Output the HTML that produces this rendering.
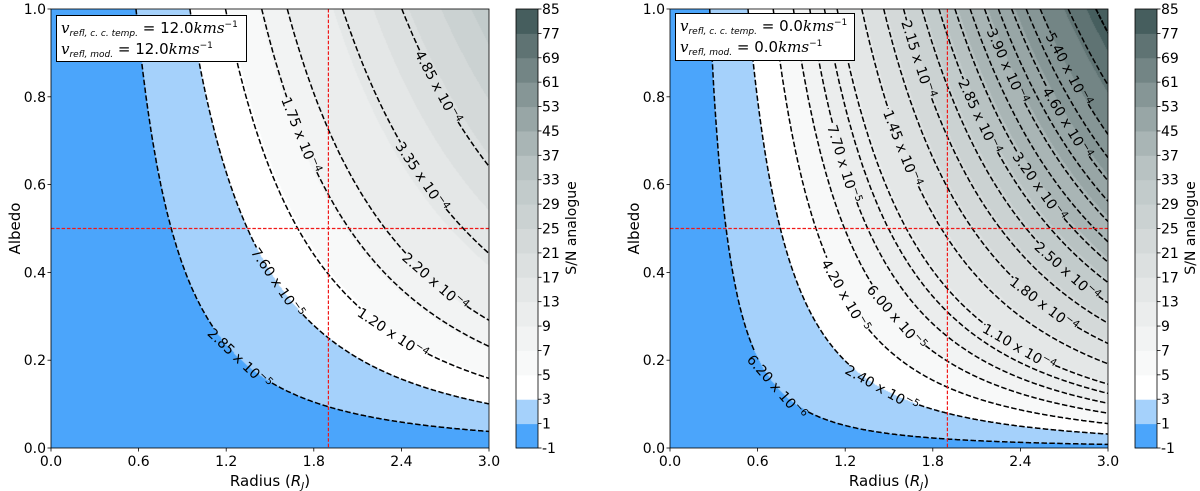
<!DOCTYPE html>
<html><head><meta charset="utf-8">
<style>
html,body{margin:0;padding:0;background:#fff;}
#wrap{position:relative;width:1200px;height:491px;overflow:hidden;font-family:"DejaVu Sans","Liberation Sans",sans-serif;}
canvas{position:absolute;}
svg{position:absolute;left:0;top:0;}
.leg{position:absolute;background:#fff;border:1px solid #000;font-size:15px;line-height:20px;padding:2px 4px;box-sizing:border-box;white-space:nowrap;overflow:hidden;}
.leg div{height:21px;}
.leg i{font-family:"DejaVu Serif","Liberation Serif",serif;font-size:15px;}
.leg sub{font-size:9px;font-style:italic;vertical-align:-3px;line-height:0;}
.leg sup{font-size:9px;vertical-align:6px;line-height:0;}
</style></head><body>
<div id="wrap">
<canvas id="cvL"></canvas>
<canvas id="cvR"></canvas>
<svg id="svg" width="1200" height="491"></svg>
<div class="leg" style="left:56px;top:15px;width:191px;height:47px;">
<div><i>v</i><sub>refl, c. c. temp.</sub> = 12.0<i>kms</i><sup>−1</sup></div>
<div><i>v</i><sub>refl, mod.</sub> = 12.0<i>kms</i><sup>−1</sup></div></div>
<div class="leg" style="left:675px;top:13px;width:180px;height:48px;">
<div><i>v</i><sub>refl, c. c. temp.</sub> = 0.0<i>kms</i><sup>−1</sup></div>
<div><i>v</i><sub>refl, mod.</sub> = 0.0<i>kms</i><sup>−1</sup></div></div>
</div>
<script>
// ---- data ----
const xTicks = [0.0, 0.6, 1.2, 1.8, 2.4, 3.0];
const yTicks = [0.0, 0.2, 0.4, 0.6, 0.8, 1.0];
const cbBounds = [-1, 1, 3, 5, 7, 9, 13, 17, 21, 25, 29, 33, 37, 45, 53, 61, 69, 77, 85];
const cbColors = ["#4ba5fb","#a5d1fb","#ffffff","#f8f9f9","#f2f3f3","#ebeded","#e4e7e7","#dce0e0","#d4d9d9","#cbd2d2","#c2cbcb","#b8c2c2","#a9b5b5","#98a6a6","#869696","#738585","#5f7373","#465e5e"];
const leftLevels = [2.85e-5, 7.60e-5, 1.20e-4, 1.75e-4, 2.20e-4, 3.35e-4, 4.85e-4];
const leftLabelR = [1.29, 1.55, 2.34, 1.71, 2.63, 2.54, 2.65];
const rightLevels = [6.20e-6, 2.40e-5, 4.20e-5, 6.00e-5, 7.70e-5, 9.40e-5, 1.10e-4, 1.45e-4, 1.80e-4, 2.15e-4, 2.50e-4, 2.85e-4, 3.20e-4, 3.55e-4, 3.90e-4, 4.25e-4, 4.60e-4, 5.00e-4, 5.40e-4, 6.25e-4, 7.15e-4];
const rightLabelR = [0.73, 1.45, 1.20, 1.55, 1.19, null, 2.39, 1.59, 2.56, 1.70, 2.72, 2.12, 2.53, null, 2.31, null, 2.72, null, 2.73, null, null];
const levelScale = 8.4e-5;        // flux per unit A*R^2
const leftSN = [3.53, -0.2];      // S/N = a*A*R^2 + b
const rightSN = [9.43, 0.3];
const crossR = 1.9, crossA = 0.5;

const NS = "http://www.w3.org/2000/svg";
const svg = document.getElementById('svg');
function mk(tag, attrs, parent){ const e=document.createElementNS(NS,tag); for(const k in attrs) e.setAttribute(k,attrs[k]); (parent||svg).appendChild(e); return e; }
function fmt(v){ const ex=Math.floor(Math.log10(v)+1e-9); const m=v/Math.pow(10,ex); return [m.toFixed(2), ex]; }

function drawPanel(p){
  const sx=v=>p.x0+(v/3)*(p.x1-p.x0);
  const sy=v=>p.y1-v*(p.y1-p.y0);
  const W=p.x1-p.x0, H=p.y1-p.y0;
  const cv=document.getElementById(p.canvas);
  cv.width=W; cv.height=H; cv.style.left=p.x0+'px'; cv.style.top=p.y0+'px';
  const ctx=cv.getContext('2d'); const img=ctx.createImageData(W,H);
  const rgb=cbColors.map(c=>[parseInt(c.substr(1,2),16),parseInt(c.substr(3,2),16),parseInt(c.substr(5,2),16)]);
  for(let j=0;j<H;j++){ const A=1-(j+0.5)/H;
    for(let i=0;i<W;i++){ const R=(i+0.5)/W*3; const sn=p.sn[0]*A*R*R+p.sn[1];
      let b=0; while(b<cbColors.length-1 && sn>cbBounds[b+1]) b++;
      const k=(j*W+i)*4; img.data[k]=rgb[b][0]; img.data[k+1]=rgb[b][1]; img.data[k+2]=rgb[b][2]; img.data[k+3]=255; } }
  ctx.putImageData(img,0,0);
  const g=mk('g',{});
  
  
  const clip=mk('clipPath',{id:p.name+'clip'},g); mk('rect',{x:p.x0,y:p.y0,width:W,height:H},clip);
  p.levels.forEach((L,li)=>{
    const K=L/levelScale; const Rmin=Math.sqrt(K);
    const lr=p.labelR[li]; let lx=null,ly=null,ang=0;
    if(lr!=null){ const la=K/(lr*lr); lx=sx(lr); ly=sy(la);
      ang=Math.atan2((2*la/lr)*H, W/3)*180/Math.PI; }
    let segs=[],cur=[];
    for(let s=0;s<=400;s++){ const R=Math.max(Rmin,0.001)+(3-Math.max(Rmin,0.001))*s/400; const A=K/(R*R);
      const X=sx(R), Y=sy(Math.min(A,1.02));
      if(lx!=null && Math.hypot(X-lx,Y-ly)<40){ if(cur.length>1) segs.push(cur); cur=[]; continue; }
      cur.push(X.toFixed(1)+','+Y.toFixed(1)); }
    if(cur.length>1) segs.push(cur);
    segs.forEach(sg=>{ const pl=mk('polyline',{points:sg.join(' '),fill:'none',stroke:'#000','stroke-width':1.5,'stroke-dasharray':'5.5 2.4','clip-path':'url(#'+p.name+'clip)'},g);
      
       });
    if(lx!=null){ const [m,ex]=fmt(L);
      const t=mk('text',{x:lx,y:ly+5,'text-anchor':'middle','font-size':14,transform:'rotate('+ang.toFixed(1)+' '+lx.toFixed(1)+' '+ly.toFixed(1)+')'},g);
      
      
      t.textContent=m+' x 10';
      const ts=mk('tspan',{'font-size':10,dy:-6},t); ts.textContent='−'+(-ex); }
  });
  const vl=mk('line',{x1:sx(crossR),x2:sx(crossR),y1:p.y0,y2:p.y1,stroke:'#f01818','stroke-width':1.2,'stroke-dasharray':'3.5 1.8'},g);
  
  
  const hl=mk('line',{x1:p.x0,x2:p.x1,y1:sy(crossA),y2:sy(crossA),stroke:'#f01818','stroke-width':1.2,'stroke-dasharray':'3.5 1.8'},g);
  
  
  mk('rect',{x:p.x0,y:p.y0,width:W,height:H,fill:'none',stroke:'#000','stroke-width':0.8},g);
  xTicks.forEach(v=>{ mk('line',{x1:sx(v),x2:sx(v),y1:p.y1,y2:p.y1+3.5,stroke:'#000','stroke-width':0.8},g);
    const t=mk('text',{x:sx(v),y:p.y1+18,'text-anchor':'middle','font-size':14},g);
    
    
    t.textContent=v.toFixed(1); });
  yTicks.forEach(v=>{ mk('line',{x1:p.x0-3.5,x2:p.x0,y1:sy(v),y2:sy(v),stroke:'#000','stroke-width':0.8},g);
    const t=mk('text',{x:p.x0-5,y:sy(v)+5,'text-anchor':'end','font-size':14},g);
    
    
    t.textContent=v.toFixed(1); });
  const xt=mk('text',{x:(p.x0+p.x1)/2,y:p.y1+38,'text-anchor':'middle','font-size':15},g);
  
  
  xt.innerHTML='Radius (<tspan font-style="italic">R</tspan><tspan font-style="italic" font-size="10" dy="3">J</tspan><tspan dy="-3">)</tspan>';
  const yt=mk('text',{x:0,y:0,'text-anchor':'middle','font-size':15,transform:'translate('+(p.x0-31)+','+((p.y0+p.y1)/2)+') rotate(-90)'},g);
  
  
  yt.textContent='Albedo';
  const cb=mk('g',{},g);
  
  
  const n=cbColors.length, bh=H/n;
  cbColors.forEach((c,i)=>{ mk('rect',{x:p.cbX,y:p.y1-(i+1)*bh,width:p.cbW,height:bh+0.5,fill:c},cb); });
  mk('rect',{x:p.cbX,y:p.y0,width:p.cbW,height:H,fill:'none',stroke:'#000','stroke-width':0.8},cb);
  cbBounds.forEach((v,i)=>{ const y=p.y1-i*bh;
    mk('line',{x1:p.cbX+p.cbW,x2:p.cbX+p.cbW+3.5,y1:y,y2:y,stroke:'#000','stroke-width':0.8},cb);
    const t=mk('text',{x:p.cbX+p.cbW+4,y:y+5,'font-size':14},cb);
    
    
    t.textContent=String(v); });
  const ct=mk('text',{x:0,y:0,'text-anchor':'middle','font-size':14,transform:'translate('+(p.cbX+p.cbW+38)+',228) rotate(-90)'},cb);
  
  
  ct.textContent='S/N analogue';
}
drawPanel({name:'left',canvas:'cvL',x0:51,x1:489,y0:9,y1:448,levels:leftLevels,labelR:leftLabelR,sn:leftSN,cbX:516,cbW:22});
drawPanel({name:'right',canvas:'cvR',x0:670,x1:1108,y0:9,y1:448,levels:rightLevels,labelR:rightLabelR,sn:rightSN,cbX:1135,cbW:22});
</script>
</body></html>
